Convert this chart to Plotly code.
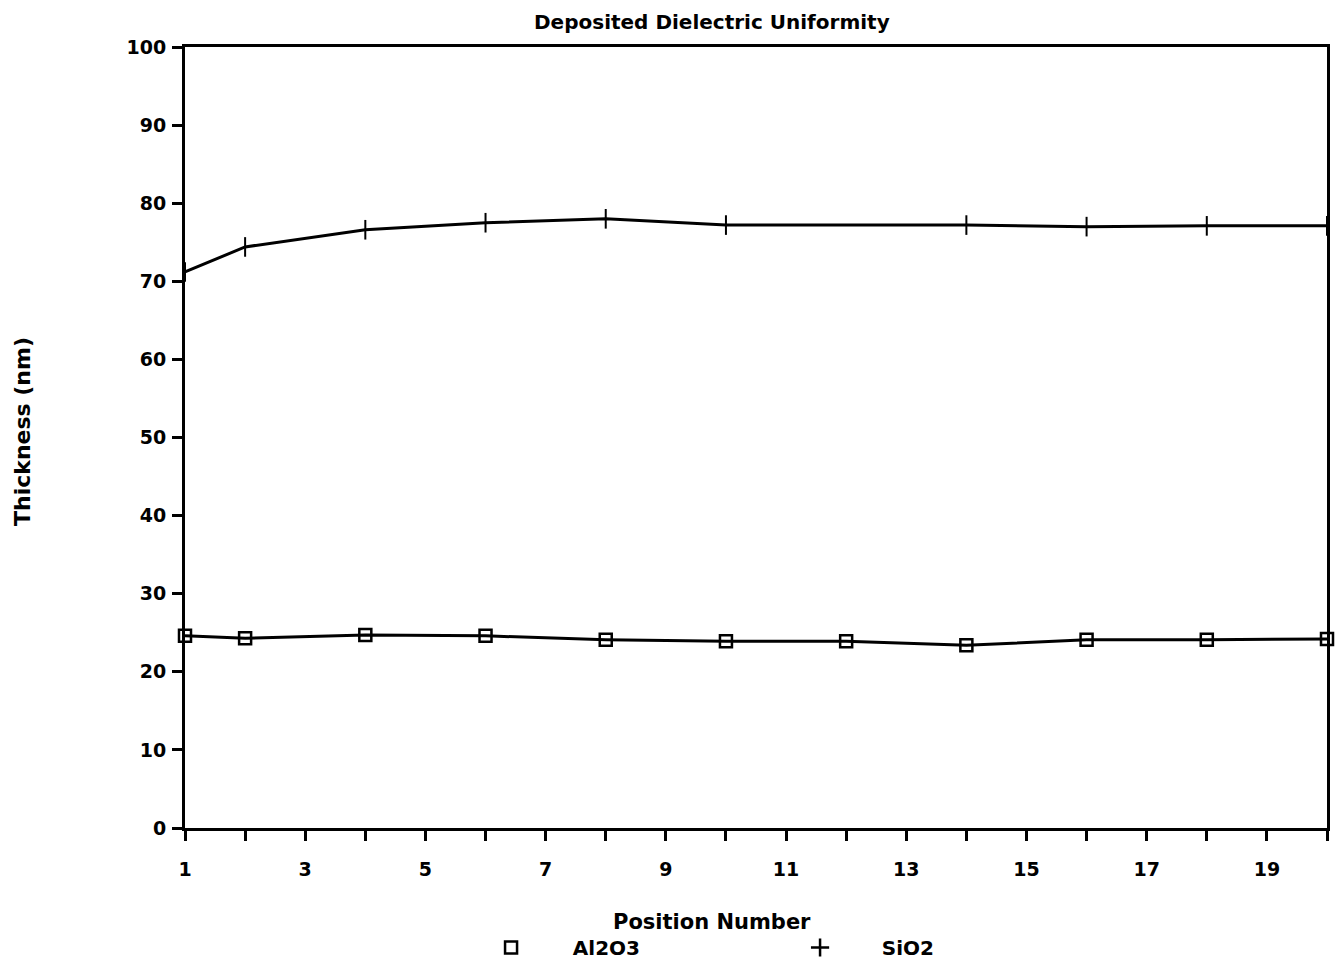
import plotly.graph_objects as go

# Measurement positions and film thickness (nm)
positions_al2o3 = [1, 2, 4, 6, 8, 10, 12, 14, 16, 18, 20]
thickness_al2o3 = [24.6, 24.3, 24.7, 24.6, 24.1, 23.9, 23.9, 23.4, 24.1, 24.1, 24.2]

positions_sio2 = [1, 2, 4, 6, 8, 10, 14, 16, 18, 20]
thickness_sio2 = [71.2, 74.4, 76.6, 77.5, 78.0, 77.2, 77.2, 77.0, 77.1, 77.1]

x_tick_values = list(range(1, 21))
x_tick_labels = [str(v) if v % 2 == 1 else "" for v in x_tick_values]
y_tick_values = list(range(0, 101, 10))

FONT = "DejaVu Sans"
INK = "black"

fig = go.Figure()

fig.add_trace(go.Scatter(
    x=positions_al2o3, y=thickness_al2o3, mode="lines+markers",
    line=dict(color=INK, width=3),
    marker=dict(symbol="square-open", size=12, color=INK, line=dict(width=2.5, color=INK)),
    cliponaxis=False, showlegend=False,
))
fig.add_trace(go.Scatter(
    x=positions_sio2, y=thickness_sio2, mode="lines+markers",
    line=dict(color=INK, width=3),
    marker=dict(symbol="line-ns", size=14, color=INK, line=dict(width=2, color=INK)),
    cliponaxis=False, showlegend=False,
))

# marker-only legend entries
fig.add_trace(go.Scatter(
    x=[None], y=[None], mode="markers", name="      Al2O3",
    marker=dict(symbol="square-open", size=12, color=INK, line=dict(width=2.5, color=INK)),
))
fig.add_trace(go.Scatter(
    x=[None], y=[None], mode="markers", name="      SiO2",
    marker=dict(symbol="cross-thin", size=13, color=INK, line=dict(width=2.5, color=INK)),
))

fig.update_layout(
    width=1338, height=964,
    margin=dict(l=185, r=11, t=47, b=136, autoexpand=False),
    paper_bgcolor="white", plot_bgcolor="white",
    font=dict(family=FONT, size=19, color=INK, weight="bold"),
    showlegend=True,
    legend=dict(
        orientation="h", x=0.268, xanchor="left", y=-(928 - 828) / 781, yanchor="top",
        entrywidth=264, entrywidthmode="pixels",
        font=dict(family=FONT, size=20, color=INK, weight="bold"),
        bgcolor="rgba(0,0,0,0)",
    ),
)

fig.update_xaxes(
    range=[1, 20], tickmode="array", tickvals=x_tick_values, ticktext=x_tick_labels,
    ticks="outside", ticklen=10, tickwidth=2.5, tickcolor=INK, ticklabelstandoff=12,
    showline=True, linewidth=3, linecolor=INK, mirror=True,
    showgrid=False, zeroline=False,
    tickfont=dict(family=FONT, size=19, color=INK, weight="bold"),
)
fig.update_yaxes(
    range=[0, 100], tickmode="array", tickvals=y_tick_values,
    ticks="outside", ticklen=10, tickwidth=2.5, tickcolor=INK, ticklabelstandoff=2,
    showline=True, linewidth=3, linecolor=INK, mirror=True,
    showgrid=False, zeroline=False,
    tickfont=dict(family=FONT, size=19, color=INK, weight="bold"),
)

fig.add_annotation(
    text="Deposited Dielectric Uniformity", xref="paper", yref="paper",
    x=(712 - 185) / 1142, y=(828 - 22) / 781, yanchor="middle", showarrow=False,
    font=dict(family=FONT, size=20, color=INK, weight="bold"),
)
fig.add_annotation(
    text="Position Number", xref="paper", yref="paper",
    x=(712 - 185) / 1142, y=-(922 - 828) / 781, yanchor="middle", showarrow=False,
    font=dict(family=FONT, size=21, color=INK, weight="bold"),
)
fig.add_annotation(
    text="Thickness (nm)", xref="paper", yref="paper",
    x=-(185 - 22) / 1142, y=(828 - 432) / 781, xanchor="center", yanchor="middle",
    textangle=-90, showarrow=False,
    font=dict(family=FONT, size=22, color=INK, weight="bold"),
)

fig.write_html("out.html")
